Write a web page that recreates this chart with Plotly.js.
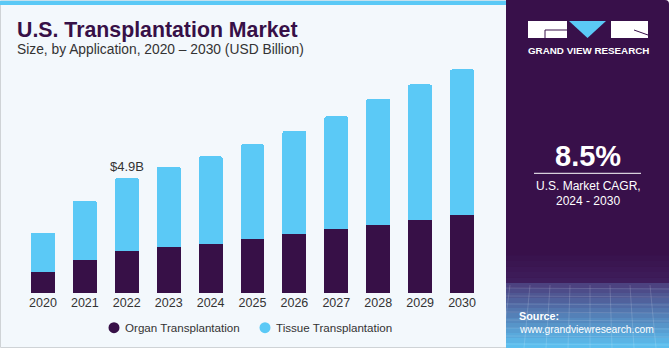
<!DOCTYPE html>
<html><head><meta charset="utf-8">
<script src="https://cdn.plot.ly/plotly-3.0.1.min.js"></script>
<style>html,body{margin:0;padding:0;background:#fff;}#chart{width:671px;height:350px;}</style>
</head><body><div id="chart"></div>
<script>
// ---- data ----
const years = ['2020','2021','2022','2023','2024','2025','2026','2027','2028','2029','2030'];
const organ = [0.92,1.43,1.79,1.97,2.11,2.31,2.52,2.74,2.92,3.12,3.33];
const tissue = [1.66,2.51,3.11,3.42,3.72,4.03,4.40,4.79,5.35,5.77,6.20];
const seriesNames = ['Organ Transplantation','Tissue Transplantation'];
const highlightYear = '2022';
const highlightLabel = '$4.9B';
const titleText = 'U.S. Transplantation Market';
const subtitleText = 'Size, by Application, 2020 \u2013 2030 (USD Billion)';
const cagrValue = '8.5%';
const cagrLines = ['U.S. Market CAGR,','2024 - 2030'];
const brandText = 'GRAND VIEW RESEARCH';
const sourceLines = ['Source:','www.grandviewresearch.com'];

// ---- style ----
const W = 671, H = 350;
const colOrgan = '#371047', colTissue = '#5bc9f6', colPanel = '#38104a';
const px = x => x / W;
const py = y => 1 - y / H;
const FONT = 'Liberation Sans, Arial, sans-serif';

const shapes = [];
const annotations = [];

// light card background
shapes.push({type:'rect', xref:'paper', yref:'paper', layer:'below', x0:px(0.5), x1:px(508), y0:py(347.5), y1:py(1), fillcolor:'#f3f8fc', line:{color:'#cfd3d6', width:1}});
// top blue strip
shapes.push({type:'rect', xref:'paper', yref:'paper', layer:'below', x0:px(0), x1:px(508), y0:py(5), y1:py(0.8), fillcolor:colTissue, line:{width:0}});
// right panel
shapes.push({type:'path', xref:'paper', yref:'paper', layer:'below',
  path:`M ${px(506)} ${py(0)} L ${px(665)} ${py(0)} Q ${px(669)} ${py(0)} ${px(669)} ${py(4)} L ${px(669)} ${py(348)} L ${px(506)} ${py(348)} Z`,
  fillcolor:colPanel, line:{width:0}});
// panel bottom gradient
function lerp(a,b,t){return Math.round(a+(b-a)*t);}
function mix(c1,c2,t){return `rgb(${lerp(c1[0],c2[0],t)},${lerp(c1[1],c2[1],t)},${lerp(c1[2],c2[2],t)})`;}
const g0=[56,16,74], g1=[62,30,92];
for(let i=0;i<6;i++){const y0=250+i*5.5;shapes.push({type:'rect',xref:'paper',yref:'paper',layer:'below',x0:px(506),x1:px(669),y0:py(y0),y1:py(y0+5.6),fillcolor:mix(g0,g1,i/5),line:{width:0}});}
const g2=[76,66,128], g3=[92,190,238];
const steps=13;
for(let i=0;i<steps;i++){const y0=283+i*5;shapes.push({type:'rect',xref:'paper',yref:'paper',layer:'below',x0:px(506),x1:px(669),y0:py(y0),y1:py(Math.min(y0+5.1,348)),fillcolor:mix(g2,g3,i/(steps-1)),line:{width:0}});}
// faint grid lines on gradient
for(let i=0;i<9;i++){const x=510+i*20;shapes.push({type:'line',xref:'paper',yref:'paper',layer:'below',x0:px(x),x1:px(x-8+i*2),y0:py(285),y1:py(348),line:{color:'rgba(255,255,255,0.15)',width:1}});}
for(let j=0;j<8;j++){const y=288+j*8;shapes.push({type:'line',xref:'paper',yref:'paper',layer:'below',x0:px(506),x1:px(669),y0:py(y),y1:py(y+1),line:{color:'rgba(255,255,255,0.13)',width:1}});}

// logo
shapes.push({type:'rect',xref:'paper',yref:'paper',x0:px(528),x1:px(567),y0:py(38),y1:py(21),fillcolor:'#ffffff',line:{width:0}});
shapes.push({type:'path',xref:'paper',yref:'paper',path:`M ${px(545)} ${py(38)} L ${px(545)} ${py(30)} L ${px(567)} ${py(30)}`,line:{color:colPanel,width:1}});
shapes.push({type:'path',xref:'paper',yref:'paper',path:`M ${px(569)} ${py(21)} L ${px(606)} ${py(21)} L ${px(587.5)} ${py(38)} Z`,fillcolor:colTissue,line:{width:0}});
shapes.push({type:'rect',xref:'paper',yref:'paper',x0:px(611),x1:px(648),y0:py(38),y1:py(21),fillcolor:'#ffffff',line:{width:0}});
shapes.push({type:'line',xref:'paper',yref:'paper',x0:px(634),x1:px(648),y0:py(30),y1:py(35),line:{color:colPanel,width:1}});
annotations.push({xref:'paper',yref:'paper',x:px(588),y:py(51),xanchor:'center',yanchor:'middle',showarrow:false,text:'<b>'+brandText+'</b>',font:{family:FONT,size:9.8,color:'#ffffff'}});

// CAGR block
annotations.push({xref:'paper',yref:'paper',x:px(588),y:py(156),xanchor:'center',yanchor:'middle',showarrow:false,text:'<b>'+cagrValue+'</b>',font:{family:FONT,size:29,color:'#ffffff'}});
shapes.push({type:'line',xref:'paper',yref:'paper',x0:px(534),x1:px(641),y0:py(173.3),y1:py(173.3),line:{color:'#ffffff',width:1}});
annotations.push({xref:'paper',yref:'paper',x:px(588),y:py(185.5),xanchor:'center',yanchor:'middle',showarrow:false,text:cagrLines[0],font:{family:FONT,size:12,color:'#ffffff'}});
annotations.push({xref:'paper',yref:'paper',x:px(588),y:py(201),xanchor:'center',yanchor:'middle',showarrow:false,text:cagrLines[1],font:{family:FONT,size:12,color:'#ffffff'}});

// source
annotations.push({xref:'paper',yref:'paper',x:px(517),y:py(316),xanchor:'left',yanchor:'middle',showarrow:false,text:'<b>'+sourceLines[0]+'</b>',font:{family:FONT,size:10.8,color:'#ffffff'}});
annotations.push({xref:'paper',yref:'paper',x:px(517),y:py(329.5),xanchor:'left',yanchor:'middle',showarrow:false,text:sourceLines[1],font:{family:FONT,size:10.3,color:'#ffffff'}});

// titles
annotations.push({xref:'paper',yref:'paper',x:px(15),y:py(29.5),xanchor:'left',yanchor:'middle',showarrow:false,text:'<b>'+titleText+'</b>',font:{family:FONT,size:21.3,color:colOrgan}});
annotations.push({xref:'paper',yref:'paper',x:px(15),y:py(50),xanchor:'left',yanchor:'middle',showarrow:false,text:subtitleText,font:{family:FONT,size:13.8,color:'#333333'}});

// highlight label (category axis: use index position)
const hi = years.indexOf(highlightYear);
annotations.push({xref:'x',yref:'y',x:hi,y:organ[hi]+tissue[hi],xanchor:'center',yanchor:'bottom',yshift:2,showarrow:false,text:highlightLabel,font:{family:FONT,size:13,color:'#333333'}});

// manual legend
const legendPos = [{cx:114, tx:123},{cx:265, tx:274}];
const legendCols = [colOrgan, colTissue];
seriesNames.forEach((n,i)=>{
  const c=legendPos[i], r=5.5, cy=327.7;
  shapes.push({type:'circle',xref:'paper',yref:'paper',x0:px(c.cx-r),x1:px(c.cx+r),y0:py(cy+r),y1:py(cy-r),fillcolor:legendCols[i],line:{width:0}});
  annotations.push({xref:'paper',yref:'paper',x:px(c.tx),y:py(cy),xanchor:'left',yanchor:'middle',showarrow:false,text:n,font:{family:FONT,size:11.6,color:'#333333'}});
});

const traces = [
  {type:'bar', x:years, y:organ, name:seriesNames[0], marker:{color:colOrgan}, hoverinfo:'skip', showlegend:false},
  {type:'bar', x:years, y:tissue, name:seriesNames[1], marker:{color:colTissue}, hoverinfo:'skip', showlegend:false}
];

const layout = {
  width:W, height:H, margin:{l:0,r:0,t:0,b:0},
  paper_bgcolor:'#ffffff', plot_bgcolor:'rgba(0,0,0,0)',
  barmode:'stack', bargap:0.43, barcornerradius:2,
  showlegend:false,
  xaxis:{type:'category', domain:[px(22), px(483)], range:[-0.5,10.5], showgrid:false, zeroline:false, showline:false, ticks:'', tickfont:{family:FONT,size:12.5,color:'#333333'}, fixedrange:true},
  yaxis:{domain:[py(293.3), py(58.3)], range:[0,10], visible:false, fixedrange:true},
  shapes:shapes, annotations:annotations
};
Plotly.newPlot('chart', traces, layout, {displayModeBar:false, staticPlot:true});
</script></body></html>
